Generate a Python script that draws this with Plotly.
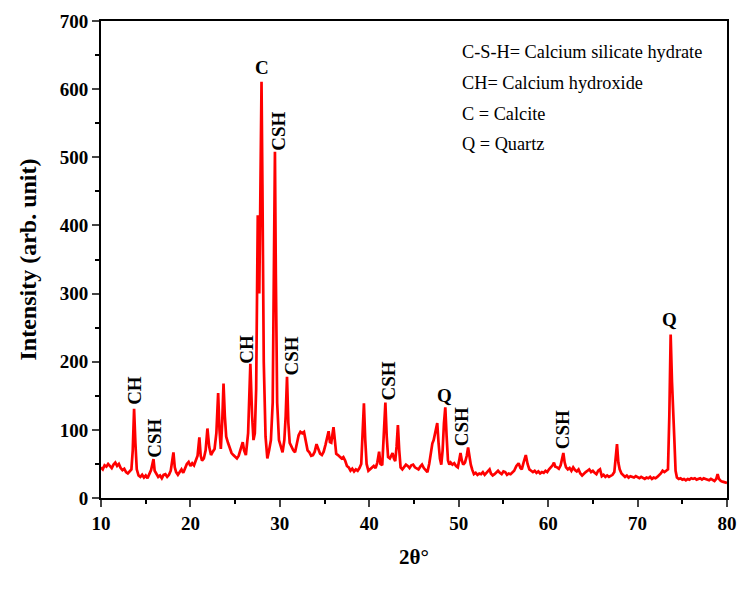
import plotly.graph_objects as go

two_theta = [10.0,10.2,10.4,10.6,10.8,11.0,11.2,11.4,11.6,11.8,12.0,12.2,12.4,12.6,12.8,13.0,13.2,13.4,13.55,13.7,13.85,14.0,14.2,14.4,14.6,14.8,15.0,15.2,15.4,15.6,15.75,15.87,16.0,16.2,16.4,16.6,16.8,17.0,17.2,17.4,17.6,17.8,17.95,18.1,18.25,18.4,18.6,18.8,19.0,19.2,19.4,19.6,19.8,20.0,20.2,20.4,20.6,20.8,21.0,21.15,21.3,21.5,21.7,21.9,22.1,22.3,22.5,22.7,22.9,23.1,23.25,23.4,23.55,23.7,23.85,24.0,24.2,24.4,24.6,24.8,25.0,25.2,25.4,25.6,25.85,26.0,26.2,26.45,26.7,26.9,27.05,27.2,27.35,27.45,27.53,27.62,27.7,27.8,27.95,28.05,28.2,28.4,28.6,28.8,29.0,29.2,29.35,29.45,29.55,29.7,29.9,30.1,30.3,30.5,30.65,30.8,30.95,31.1,31.3,31.5,31.7,31.9,32.1,32.3,32.5,32.7,32.9,33.1,33.3,33.5,33.7,33.9,34.1,34.3,34.5,34.7,34.9,35.1,35.3,35.45,35.6,35.75,35.9,36.0,36.15,36.3,36.5,36.7,36.9,37.1,37.3,37.5,37.7,37.9,38.1,38.3,38.5,38.7,38.9,39.1,39.25,39.4,39.55,39.7,39.9,40.1,40.3,40.5,40.7,40.9,41.1,41.25,41.45,41.65,41.8,41.95,42.1,42.3,42.5,42.6,42.75,42.9,43.05,43.2,43.35,43.5,43.7,43.9,44.1,44.3,44.5,44.7,44.9,45.1,45.3,45.5,45.7,45.9,46.1,46.3,46.5,46.7,46.9,47.05,47.2,47.4,47.6,47.75,47.9,48.05,48.2,48.35,48.5,48.65,48.8,48.95,49.1,49.3,49.5,49.7,49.9,50.05,50.2,50.35,50.5,50.7,50.9,51.05,51.2,51.35,51.5,51.7,51.9,52.1,52.3,52.5,52.7,52.9,53.1,53.3,53.45,53.6,53.8,54.0,54.2,54.4,54.6,54.8,55.0,55.2,55.4,55.6,55.8,56.0,56.2,56.45,56.7,56.9,57.05,57.25,57.5,57.7,57.9,58.1,58.3,58.5,58.7,58.9,59.1,59.3,59.5,59.7,59.9,60.1,60.3,60.5,60.65,60.8,61.0,61.2,61.4,61.55,61.7,61.85,62.0,62.2,62.4,62.6,62.8,63.0,63.2,63.4,63.6,63.8,64.0,64.2,64.4,64.6,64.8,65.0,65.2,65.4,65.6,65.8,66.0,66.2,66.4,66.6,66.8,67.0,67.2,67.4,67.55,67.7,67.85,68.0,68.2,68.4,68.6,68.8,69.0,69.2,69.4,69.6,69.8,70.0,70.2,70.4,70.6,70.8,71.0,71.2,71.4,71.6,71.8,72.0,72.2,72.4,72.6,72.8,73.0,73.2,73.4,73.55,73.7,73.85,73.95,74.1,74.25,74.4,74.6,74.8,75.0,75.2,75.4,75.6,75.8,76.0,76.2,76.4,76.6,76.8,77.0,77.2,77.4,77.6,77.8,78.0,78.2,78.4,78.6,78.8,78.95,79.1,79.3,79.5,79.7,79.9,80.0]

intensity = [45,42,48,46,50,47,44,49,52,47,50,44,41,43,38,36,39,42,70,131,80,42,33,31,34,30,33,29,35,41,50,57,40,36,31,33,29,34,35,31,34,40,55,67,45,38,34,39,42,37,45,50,53,47,51,48,55,62,89,62,55,58,70,102,75,63,68,72,95,154,100,72,110,168,120,90,81,72,66,63,60,58,62,70,82,70,63,95,197,120,85,95,160,300,415,360,300,420,611,460,200,90,58,70,85,140,350,508,330,140,85,75,67,85,120,178,110,81,75,70,67,78,92,97,95,97,85,70,67,62,63,68,79,72,65,63,68,78,92,98,82,81,95,104,85,65,63,60,58,60,55,47,45,40,43,39,42,40,44,50,90,139,85,50,40,42,45,47,44,52,68,50,48,100,140,90,60,58,62,66,58,54,75,107,70,45,42,46,49,47,44,48,49,45,43,42,46,49,44,40,38,50,72,80,85,100,110,80,58,49,70,110,133,90,55,49,52,49,51,47,45,55,66,55,49,52,62,74,58,49,42,35,37,34,36,35,38,34,37,40,42,36,33,35,38,40,37,35,39,38,34,36,35,37,40,47,51,44,42,52,63,50,42,40,38,40,37,39,36,38,37,40,38,42,45,48,52,46,45,43,48,58,66,52,45,42,44,40,45,41,39,42,36,33,36,38,40,42,38,40,37,35,40,42,32,34,31,33,31,32,34,38,55,79,52,42,36,33,31,33,30,32,31,30,32,30,29,31,30,28,30,29,31,28,30,29,31,33,36,40,38,40,42,120,240,170,145,90,40,30,28,29,27,28,26,28,27,29,28,29,27,28,29,27,29,28,27,26,28,27,25,28,35,28,25,24,23,22,22]

x_ticks = [10, 20, 30, 40, 50, 60, 70, 80]
y_ticks = [0, 100, 200, 300, 400, 500, 600, 700]

peak_labels = ["CH", "CSH", "CH", "C", "CSH", "CSH", "CSH", "Q", "CSH", "CSH", "Q"]
label_x = [13.75, 15.9, 26.25, 27.97, 29.9, 31.35, 42.1, 48.4, 50.35, 61.6, 73.56]
label_y = [158, 88, 218, 632, 539, 209, 171, 150, 105, 100, 262]
label_rot = [-90, -90, -90, 0, -90, -90, -90, 0, -90, -90, 0]

legend_lines = ["C-S-H= Calcium silicate hydrate", "CH= Calcium hydroxide",
                "C = Calcite", "Q = Quartz"]

serif = "Liberation Serif, Times New Roman, serif"

fig = go.Figure()
fig.add_trace(go.Scatter(x=two_theta, y=intensity, mode="lines",
                         line=dict(color="#ff0000", width=2.7), showlegend=False))

for t, lx, ly, r in zip(peak_labels, label_x, label_y, label_rot):
    fig.add_annotation(x=lx, y=ly, text="<b>%s</b>" % t, showarrow=False,
                       textangle=r, xref="x", yref="y",
                       font=dict(family=serif, size=19, color="black"))

for i, line in enumerate(legend_lines):
    fig.add_annotation(x=0.573, y=0.935 - i * 0.0645, xref="paper", yref="paper",
                       text=line, showarrow=False, xanchor="left", yanchor="middle",
                       font=dict(family=serif, size=18.3, color="black"))

fig.update_layout(
    width=748, height=596,
    margin=dict(l=101, r=11, t=17, b=98),
    plot_bgcolor="white", paper_bgcolor="white",
    font=dict(family=serif, color="black"),
)
fig.update_xaxes(range=[10, 80], tickvals=x_ticks, ticks="outside", ticklen=7, tickwidth=2,
                 showline=True, linewidth=2, linecolor="black", mirror=True,
                 showgrid=False, zeroline=False,
                 tickfont=dict(family=serif, size=19, color="black", weight="bold"),
                 minor=dict(dtick=5, ticks="outside", ticklen=4, tickwidth=1.5, tickcolor="black"),
                 title=dict(text="<b>2θ°</b>", font=dict(family=serif, size=21, color="black"), standoff=17))
fig.update_yaxes(range=[0, 700], tickvals=y_ticks, ticks="outside", ticklen=7, tickwidth=2,
                 showline=True, linewidth=2, linecolor="black", mirror=True,
                 showgrid=False, zeroline=False,
                 tickfont=dict(family=serif, size=19, color="black", weight="bold"),
                 minor=dict(dtick=50, ticks="outside", ticklen=4, tickwidth=1.5, tickcolor="black"),
                 title=dict(text="<b>Intensity (arb. unit)</b>", font=dict(family=serif, size=24, color="black"), standoff=16))

fig.write_html("out.html")
